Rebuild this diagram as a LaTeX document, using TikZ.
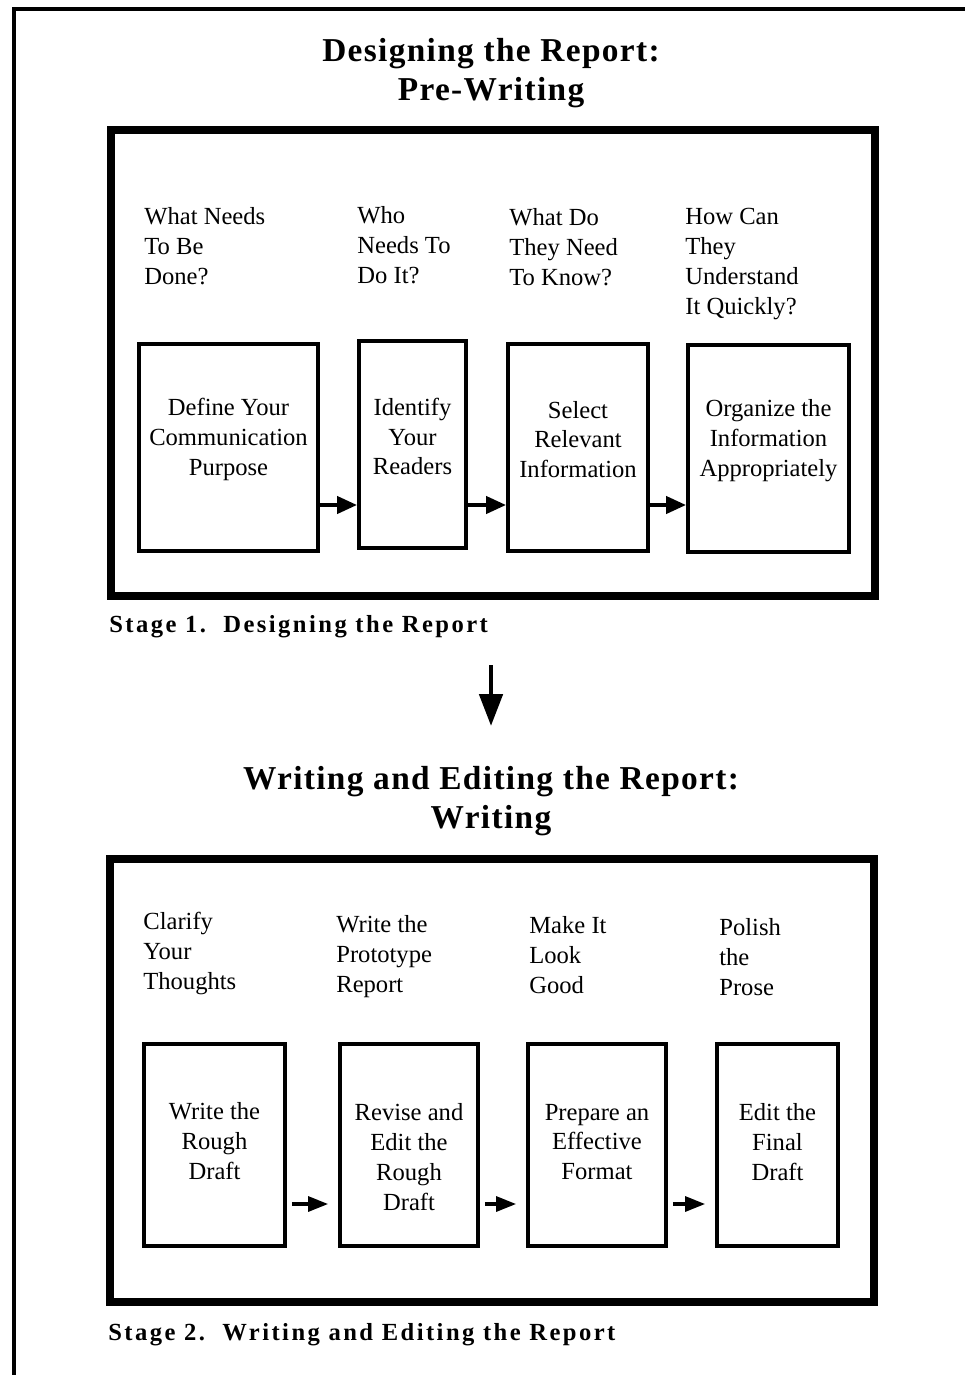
\documentclass[tikz,border=0pt]{standalone}
\usepackage{fontspec}
\setmainfont{Liberation Serif}
\newfontfamily\headfont[LetterSpace=4]{Liberation Serif}
\newfontfamily\capfont[LetterSpace=10]{Liberation Serif}
\usetikzlibrary{positioning,arrows.meta}

\begin{document}
\begin{tikzpicture}[x=0.02cm, y=-0.02cm,
  task/.style={draw=black, line width=2.2pt, inner sep=0pt},
  tasktext/.style={inner sep=0pt, align=center, font=\fontsize{14}{17}\selectfont},
  ask/.style={inner sep=0pt, anchor=north west, align=left,
    font=\fontsize{14}{17}\selectfont},
  stagebox/.style={draw=black, line width=4.5pt},
  title/.style={align=center, inner sep=0pt, font=\headfont\bfseries\fontsize{19}{22}\selectfont},
  caption/.style={anchor=west, inner sep=0pt, font=\capfont\bfseries\fontsize{14}{17}\selectfont},
  flow/.style={-{Triangle[length=0.4cm,width=0.34cm]}, line width=2.3pt},
  flowthin/.style={-{Triangle[length=0.4cm,width=0.3cm]}, line width=1.8pt,
    shorten <=0.1cm, shorten >=0.2cm}]
  \useasboundingbox (0,0) rectangle (965,1375);

  % page frame
  \draw[line width=2.8pt] (14,1375) -- (14,9) -- (965,9);

  % stage 1
  \node[title] (title1) at (491,73) {Designing the Report:\\Pre-Writing};
  \draw[stagebox] (111,130) rectangle (875,596);

  \node[task, minimum width=3.58cm, minimum height=4.14cm] (define)   at (228.5,447.5) {};
  \node[task, minimum width=2.14cm, minimum height=4.14cm] (identify) at (412.5,444.5) {};
  \node[task, minimum width=2.8cm,  minimum height=4.14cm] (select)   at (578,447.5)   {};
  \node[task, minimum width=3.22cm, minimum height=4.14cm] (organize) at (768.5,448.5) {};

  \node[tasktext, yshift=0.16cm] (definetxt)   at (define)   {Define Your\\Communication\\Purpose};
  \node[tasktext, yshift=0.16cm] (identifytxt) at (identify) {Identify\\Your\\Readers};
  \node[tasktext, yshift=0.16cm] (selecttxt)   at (select)   {Select\\Relevant\\Information};
  \node[tasktext, yshift=0.16cm] (organizetxt) at (organize) {Organize the\\Information\\Appropriately};

  \node[ask] (qdone)  at (144,207) {What Needs\\To Be\\Done?};
  \node[ask] (qwho)   at (357,206) {Who\\Needs To\\Do It?};
  \node[ask] (qknow)  at (509,208) {What Do\\They Need\\To Know?};
  \node[ask] (qquick) at (685,208) {How Can\\They\\Understand\\It Quickly?};

  \coordinate (row1) at (0,505);
  \path[flow]
  (define.east |- row1)   edge (identify.west |- row1)
  (identify.east |- row1) edge (select.west |- row1)
  (select.east |- row1)   edge (organize.west |- row1);

  \node[caption] (cap1) at (109,627) {Stage 1.\ \ Designing the Report};

  \coordinate (downtop) at (491,665);
  \coordinate (downend) at (491,726);
  \draw[-{Triangle[length=0.64cm,width=0.46cm]}, line width=2.8pt] (downtop) -- (downend);

  % stage 2
  \node[title] (title2) at (491,801) {Writing and Editing the Report:\\Writing};
  \draw[stagebox] (110,859) rectangle (874,1302);

  \node[task, minimum width=2.82cm, minimum height=4.04cm] (rough)  at (214.5,1145) {};
  \node[task, minimum width=2.76cm, minimum height=4.04cm] (revise) at (409,1145)   {};
  \node[task, minimum width=2.76cm, minimum height=4.04cm] (format) at (597,1145)   {};
  \node[task, minimum width=2.42cm, minimum height=4.04cm] (final)  at (777.5,1145) {};

  \node[tasktext, yshift=0.08cm]  (roughtxt)  at (rough)  {Write the\\Rough\\Draft};
  \node[tasktext, yshift=-0.24cm] (revisetxt) at (revise) {Revise and\\Edit the\\Rough\\Draft};
  \node[tasktext, yshift=0.06cm]  (formattxt) at (format) {Prepare an\\Effective\\Format};
  \node[tasktext, yshift=0.06cm]  (finaltxt)  at (final)  {Edit the\\Final\\Draft};

  \node[ask] (qclarify) at (143,912) {Clarify\\Your\\Thoughts};
  \node[ask] (qproto)   at (336,915) {Write the\\Prototype\\Report};
  \node[ask] (qlook)    at (529,916) {Make It\\Look\\Good};
  \node[ask] (qpolish)  at (719,918) {Polish\\the\\Prose};

  \coordinate (row2) at (0,1204);
  \path[flowthin]
  (rough.east |- row2)  edge (revise.west |- row2)
  (revise.east |- row2) edge (format.west |- row2)
  (format.east |- row2) edge (final.west |- row2);

  \node[caption] (cap2) at (108,1335) {Stage 2.\ \ Writing and Editing the Report};
\end{tikzpicture}
\end{document}
